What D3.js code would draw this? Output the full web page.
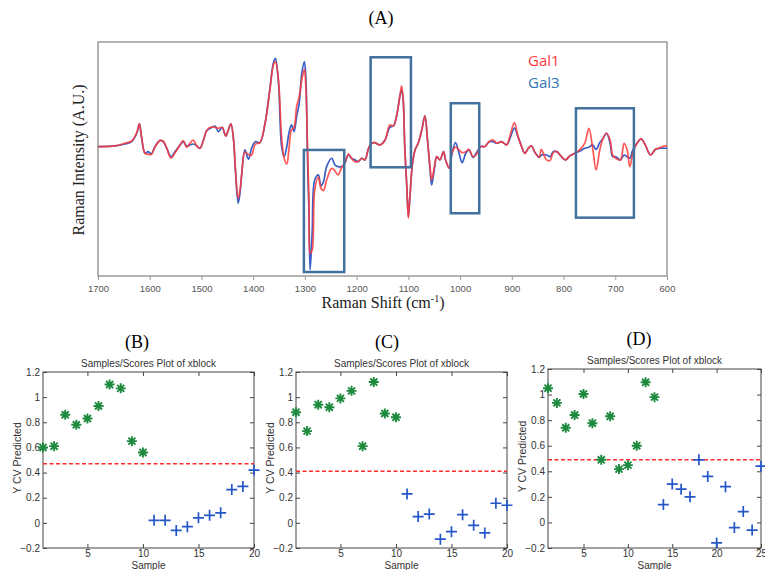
<!DOCTYPE html>
<html>
<head>
<meta charset="utf-8">
<script src="https://cdn.jsdelivr.net/npm/d3@7"></script>
<style>
  body { margin: 0; background: #fff; }
  svg { display: block; }
</style>
</head>
<body>
<svg id="fig" width="765" height="570"></svg>
<script>
// spectra [Raman shift cm-1, intensity]
const gal3Points = [
  [1700,-0.008],[1667,-0.003],[1648,0.012],[1635,0.030],[1625,0.095],[1620,0.167],[1616,0.069],
  [1609,-0.060],[1603,-0.047],[1597,-0.065],[1590,-0.008],[1580,0.040],[1574,0.030],[1567,-0.021],
  [1559,-0.086],[1551,-0.047],[1543,-0.003],[1535,0.030],[1529,-0.003],[1522,0.005],[1516,0.012],
  [1509,-0.003],[1503,-0.021],[1496,0.043],[1490,0.115],[1483,0.133],[1474,0.151],[1467,0.108],
  [1460,0.141],[1453,0.074],[1448,0.121],[1443,0.167],[1438,0.043],[1434,-0.214],[1429,-0.446],
  [1425,-0.350],[1422,-0.214],[1416,-0.034],[1409,-0.106],[1403,-0.021],[1396,0.030],[1387,0.023],
  [1377,0.172],[1368,0.430],[1361,0.636],[1357,0.674],[1351,0.481],[1345,-0.008],[1340,-0.086],
  [1335,-0.008],[1331,0.095],[1326,0.159],[1321,0.108],[1316,0.224],[1311,0.327],[1306,0.558],
  [1301,0.649],[1298,0.507],[1295,-0.098],[1292,-0.550],[1290,-0.961],[1286,-0.678],[1281,-0.266],
  [1274,-0.227],[1269,-0.312],[1264,-0.279],[1258,-0.163],[1248,-0.098],[1242,-0.150],[1236,-0.163],
  [1229,-0.163],[1223,-0.137],[1216,-0.073],[1210,-0.098],[1203,-0.111],[1197,-0.124],[1190,-0.098],
  [1184,-0.111],[1177,-0.021],[1171,0.018],[1165,0.022],[1155,0.005],[1145,0.043],[1136,0.141],
  [1129,0.151],[1123,0.224],[1116,0.391],[1113,0.430],[1110,0.352],[1107,-0.008],[1103,-0.317],
  [1100,-0.549],[1097,-0.395],[1092,-0.137],[1087,-0.034],[1081,0.018],[1074,0.121],[1068,0.229],
  [1063,0.043],[1058,-0.189],[1055,-0.304],[1050,-0.189],[1045,-0.086],[1039,-0.111],[1032,-0.047],
  [1028,-0.111],[1021,-0.176],[1016,-0.073],[1009,0.023],[1002,-0.060],[996,-0.132],[989,-0.060],
  [983,-0.034],[975,-0.091],[969,-0.060],[960,-0.008],[952,-0.008],[944,0.030],[936,0.030],
  [929,0.018],[920,0.030],[910,0.005],[904,0.052],[895,0.135],[888,0.069],[881,-0.008],[875,-0.060],
  [868,-0.021],[862,-0.003],[855,-0.055],[847,-0.091],[843,-0.073],[833,-0.073],[826,-0.086],
  [820,-0.047],[813,-0.047],[804,-0.086],[796,-0.111],[788,-0.080],[778,-0.060],[768,-0.042],
  [759,-0.021],[751,-0.013],[744,0.005],[737,-0.029],[730,0.023],[724,0.052],[717,0.095],[710,0.018],
  [705,-0.086],[699,-0.086],[690,-0.111],[683,-0.073],[677,-0.086],[672,-0.098],[666,-0.034],
  [658,0.018],[650,0.052],[642,0.005],[632,-0.073],[622,-0.029],[612,-0.021],[603,-0.021],[600,-0.020]
];

const gal1Points = [
  [1700,-0.008],[1667,-0.003],[1648,0.018],[1635,0.035],[1625,0.100],[1620,0.167],[1616,0.069],
  [1609,-0.060],[1603,-0.067],[1597,-0.070],[1590,-0.013],[1580,0.038],[1574,0.035],[1567,-0.021],
  [1559,-0.098],[1551,-0.055],[1543,-0.008],[1535,0.038],[1529,-0.013],[1522,0.018],[1516,0.043],
  [1509,-0.003],[1503,-0.021],[1496,0.043],[1490,0.115],[1483,0.141],[1474,0.141],[1467,0.133],
  [1460,0.141],[1453,0.074],[1448,0.121],[1443,0.167],[1438,0.050],[1434,-0.200],[1429,-0.407],
  [1425,-0.330],[1422,-0.214],[1416,-0.050],[1409,-0.070],[1403,-0.073],[1396,0.010],[1387,0.023],
  [1377,0.172],[1368,0.420],[1361,0.620],[1357,0.649],[1351,0.500],[1345,0.060],[1340,-0.100],
  [1335,-0.142],[1331,-0.034],[1326,0.121],[1321,0.141],[1316,0.301],[1311,0.378],[1306,0.507],
  [1301,0.589],[1298,0.430],[1295,0.000],[1292,-0.450],[1290,-0.833],[1286,-0.807],[1281,-0.343],
  [1274,-0.245],[1269,-0.330],[1264,-0.348],[1258,-0.266],[1248,-0.176],[1243,-0.190],[1236,-0.227],
  [1229,-0.170],[1223,-0.137],[1216,-0.065],[1210,-0.098],[1203,-0.124],[1197,-0.124],[1190,-0.098],
  [1184,-0.111],[1177,-0.021],[1171,0.018],[1165,0.022],[1155,0.005],[1145,0.043],[1136,0.159],
  [1129,0.151],[1123,0.224],[1116,0.391],[1113,0.461],[1110,0.360],[1107,-0.008],[1103,-0.317],
  [1100,-0.560],[1097,-0.395],[1092,-0.137],[1087,-0.034],[1081,0.018],[1074,0.121],[1068,0.229],
  [1063,0.043],[1058,-0.170],[1055,-0.266],[1050,-0.170],[1045,-0.086],[1039,-0.111],[1032,-0.047],
  [1028,-0.111],[1021,-0.176],[1016,-0.060],[1009,-0.012],[1002,-0.034],[996,-0.055],[989,-0.047],
  [983,-0.029],[975,-0.086],[969,-0.073],[960,-0.008],[952,-0.008],[944,0.030],[936,0.043],
  [929,0.018],[920,0.030],[910,0.005],[904,0.069],[895,0.177],[888,0.069],[881,-0.008],[875,-0.060],
  [868,-0.021],[862,-0.003],[855,-0.055],[847,-0.091],[843,-0.029],[833,-0.111],[826,-0.116],
  [820,-0.055],[813,-0.047],[804,-0.086],[796,-0.111],[788,-0.080],[778,-0.060],[768,-0.029],
  [759,0.018],[751,0.133],[744,-0.013],[737,-0.189],[730,-0.034],[724,0.052],[717,0.095],[710,0.043],
  [705,-0.073],[699,-0.098],[690,-0.111],[683,0.018],[677,-0.034],[672,-0.163],[666,-0.060],
  [658,0.018],[650,0.052],[642,0.005],[632,-0.073],[622,-0.029],[612,-0.013],[603,-0.003],[600,0.000]
];

// highlighted regions (cm-1 from/to, intensity top/bottom)
const boxShiftFrom = [1302, 1173, 1018, 776];
const boxShiftTo = [1224, 1095, 963, 664];
const boxTop = [-0.034, 0.682, 0.327, 0.288];
const boxBottom = [-0.977, -0.168, -0.523, -0.557];

const ramanTicks = [1700, 1600, 1500, 1400, 1300, 1200, 1100, 1000, 900, 800, 700, 600];

// Y CV predicted per sample
const predB = [0.60, 0.61, 0.86, 0.78, 0.83, 0.93, 1.10, 1.07, 0.65, 0.56,
               0.02, 0.02, -0.06, -0.03, 0.04, 0.06, 0.08, 0.265, 0.29, 0.42];
const classB = 10;
const thresholdB = 0.47;

const predC = [0.88, 0.73, 0.94, 0.92, 0.99, 1.05, 0.61, 1.12, 0.87, 0.84,
               0.23, 0.05, 0.07, -0.13, -0.07, 0.065, -0.02, -0.08, 0.156, 0.14];
const classC = 10;
const thresholdC = 0.41;

const predD = [1.05, 0.935, 0.74, 0.84, 1.005, 0.776, 0.49, 0.83, 0.417, 0.448, 0.60, 1.096, 0.98,
               0.14, 0.30, 0.26, 0.20, 0.49, 0.36, -0.16, 0.28, -0.04, 0.085, -0.06, 0.44];
const classD = 13;
const thresholdD = 0.49;

const yTicks = [-0.2, 0, 0.2, 0.4, 0.6, 0.8, 1, 1.2];

const svg = d3.select('#fig');
const serif = '"Liberation Serif", "Times New Roman", serif';
const sans = '"Liberation Sans", Arial, sans-serif';

// ---------- panel A ----------
const ax = d3.scaleLinear().domain([1700, 600]).range([98, 667]);
const ay = d3.scaleLinear().domain([-1, 0.8]).range([275, 42]);

svg.append('text').attr('x', 381).attr('y', 24).attr('text-anchor', 'middle')
  .style('font-family', serif).style('font-size', '18px').text('(A)');

svg.append('rect').attr('x', 98).attr('y', 42).attr('width', 569).attr('height', 234)
  .attr('fill', 'none').attr('stroke', '#9a9a9a').attr('stroke-width', 1.5);

const aAxis = svg.append('g').attr('transform', 'translate(0,276)')
  .call(d3.axisBottom(ax).tickValues(ramanTicks).tickSize(4).tickFormat(d3.format('d')));
aAxis.select('.domain').remove();
aAxis.selectAll('line').attr('stroke', '#9a9a9a');
aAxis.selectAll('text').attr('fill', '#555').style('font-family', sans).style('font-size', '9.5px')
  .attr('dy', '0.9em');

const line = d3.line().x(d => ax(d[0])).y(d => ay(d[1])).curve(d3.curveCatmullRom.alpha(0.5));

svg.append('path').datum(gal3Points).attr('d', line)
  .attr('fill', 'none').attr('stroke', '#3a5fc4').attr('stroke-width', 1.7);
svg.append('path').datum(gal1Points).attr('d', line)
  .attr('fill', 'none').attr('stroke', '#ff3a3a').attr('stroke-width', 1.7).attr('stroke-opacity', 0.85);

boxShiftFrom.forEach(function(s, i) {
  svg.append('rect')
    .attr('x', ax(s)).attr('y', ay(boxTop[i]))
    .attr('width', ax(boxShiftTo[i]) - ax(s)).attr('height', ay(boxBottom[i]) - ay(boxTop[i]))
    .attr('fill', 'none').attr('stroke', '#41719c').attr('stroke-width', 2.5);
});

svg.append('text').attr('x', 528).attr('y', 66)
  .style('font-family', '"Open Sans", sans-serif').style('font-size', '15px')
  .attr('fill', '#ff3b3b').text('Gal1');
svg.append('text').attr('x', 528).attr('y', 88)
  .style('font-family', '"Open Sans", sans-serif').style('font-size', '15px')
  .attr('fill', '#2e75b6').text('Gal3');

svg.append('text').attr('transform', 'translate(84,160) rotate(-90)').attr('text-anchor', 'middle')
  .style('font-family', serif).style('font-size', '16px').attr('fill', '#222')
  .text('Raman Intensity (A.U.)');

const xt = svg.append('text').attr('x', 383).attr('y', 308).attr('text-anchor', 'middle')
  .style('font-family', serif).style('font-size', '16px').attr('fill', '#222');
xt.append('tspan').text('Raman Shift (cm');
xt.append('tspan').attr('dy', -6).style('font-size', '10px').text('-1');
xt.append('tspan').attr('dy', 6).text(')');

// ---------- panels B, C, D ----------
function asterisk(r) {
  const d = r * Math.SQRT1_2;
  return 'M' + (-r) + ',0H' + r + 'M0,' + (-r) + 'V' + r +
    'M' + (-d) + ',' + (-d) + 'L' + d + ',' + d + 'M' + (-d) + ',' + d + 'L' + d + ',' + (-d);
}
function plus(r) {
  return 'M' + (-r) + ',0H' + r + 'M0,' + (-r) + 'V' + r;
}

function drawScores(o) {
  const n = o.values.length;
  const x = d3.scaleLinear().domain([1, n]).range([o.left, o.right]);
  const y = d3.scaleLinear().domain([-0.2, 1.2]).range([o.bottom, o.top]);
  const g = svg.append('g');
  const xTicks = d3.range(5, n + 1, 5);

  g.append('text').attr('x', o.labelX).attr('y', o.top - 24).attr('text-anchor', 'middle')
    .style('font-family', serif).style('font-size', '18px').text(o.label);
  g.append('text').attr('x', (o.left + o.right) / 2).attr('y', o.top - 5).attr('text-anchor', 'middle')
    .style('font-family', sans).style('font-size', '10px').attr('fill', '#333')
    .text('Samples/Scores Plot of xblock');

  g.append('rect').attr('x', o.left).attr('y', o.top)
    .attr('width', o.right - o.left).attr('height', o.bottom - o.top)
    .attr('fill', 'none').attr('stroke', '#444').attr('stroke-width', 1);

  // ticks inward on all sides
  const bx = g.append('g').attr('transform', 'translate(0,' + o.bottom + ')')
    .call(d3.axisBottom(x).tickValues(xTicks).tickSize(-4).tickPadding(1.5).tickFormat(d3.format('d')));
  const tx = g.append('g').attr('transform', 'translate(0,' + o.top + ')')
    .call(d3.axisTop(x).tickValues(xTicks).tickSize(-4).tickFormat(''));
  const ly = g.append('g').attr('transform', 'translate(' + o.left + ',0)')
    .call(d3.axisLeft(y).tickValues(yTicks).tickSize(-4).tickPadding(3).tickFormat(d3.format('~g')));
  const ry = g.append('g').attr('transform', 'translate(' + o.right + ',0)')
    .call(d3.axisRight(y).tickValues(yTicks).tickSize(-4).tickFormat(''));
  [bx, tx, ly, ry].forEach(function(a) {
    a.select('.domain').remove();
    a.selectAll('line').attr('stroke', '#444');
    a.selectAll('text').attr('fill', '#333').style('font-family', sans).style('font-size', '10px');
  });

  g.append('text').attr('x', (o.left + o.right) / 2).attr('y', 569).attr('text-anchor', 'middle')
    .style('font-family', sans).style('font-size', '10px').attr('fill', '#333').text('Sample');
  g.append('text').attr('transform', 'translate(' + (o.left - 22) + ',' + ((o.top + o.bottom) / 2 - 2) + ') rotate(-90)')
    .attr('text-anchor', 'middle')
    .style('font-family', sans).style('font-size', '10.5px').attr('fill', '#333').text('Y CV Predicted');

  g.append('line').attr('x1', o.left).attr('x2', o.right)
    .attr('y1', y(o.threshold)).attr('y2', y(o.threshold))
    .attr('stroke', '#ff2a2a').attr('stroke-width', 1.5).attr('stroke-dasharray', '4,2.5');

  g.selectAll('.pt').data(o.values).enter().append('path')
    .attr('transform', (d, i) => 'translate(' + x(i + 1) + ',' + y(d) + ')')
    .attr('d', (d, i) => i < o.nClass ? asterisk(5) : plus(5.5))
    .attr('fill', 'none')
    .attr('stroke', (d, i) => i < o.nClass ? '#1d8a3e' : '#2456c8')
    .attr('stroke-width', (d, i) => i < o.nClass ? 1.9 : 1.7);
}

drawScores({ values: predB, nClass: classB, threshold: thresholdB, label: '(B)', labelX: 137,
  left: 43, right: 254, top: 372, bottom: 548 });
drawScores({ values: predC, nClass: classC, threshold: thresholdC, label: '(C)', labelX: 387,
  left: 296, right: 507, top: 372, bottom: 548 });
drawScores({ values: predD, nClass: classD, threshold: thresholdD, label: '(D)', labelX: 639,
  left: 548, right: 761, top: 369, bottom: 548 });
</script>
</body>
</html>
